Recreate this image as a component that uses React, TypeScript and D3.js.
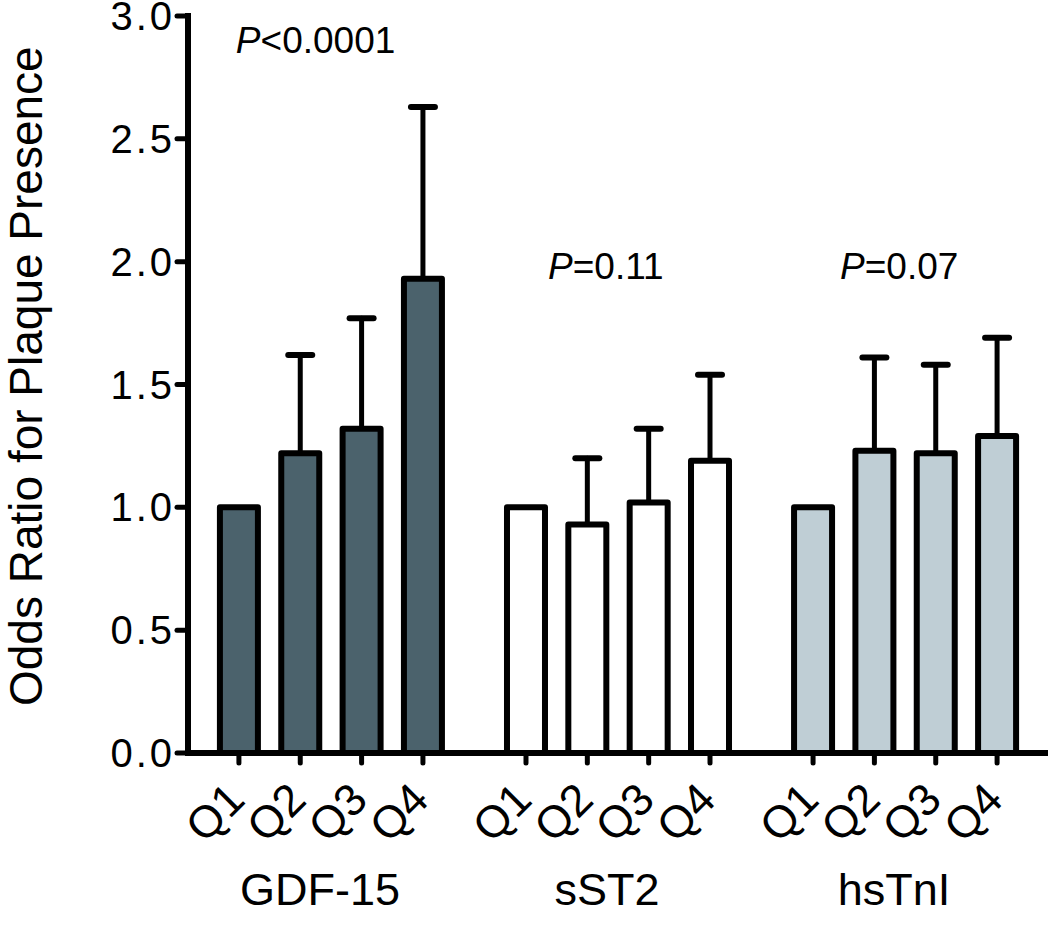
import React from "react";
import * as d3 from "d3";

// ---- data ----
const groups = ["GDF-15", "sST2", "hsTnI"];
const quartiles = ["Q1", "Q2", "Q3", "Q4"];
const gdf15OR = [1.0, 1.22, 1.32, 1.93];
const gdf15Upper = [null, 1.62, 1.77, 2.63];
const sst2OR = [1.0, 0.93, 1.02, 1.19];
const sst2Upper = [null, 1.2, 1.32, 1.54];
const hstniOR = [1.0, 1.23, 1.22, 1.29];
const hstniUpper = [null, 1.61, 1.58, 1.69];
const groupFills = ["#4B626C", "#FFFFFF", "#BFCED5"];
const pLabels = [
  { prefix: "P", rest: "<0.0001", slot: -0.05, value: 2.85 },
  { prefix: "P", rest: "=0.11", slot: 4.68 + 0.36, value: 1.93 },
  { prefix: "P", rest: "=0.07", slot: 9.36 + 0.44, value: 1.93 },
];
const yTicks = [0, 0.5, 1.0, 1.5, 2.0, 2.5, 3.0];
const yLabel = "Odds Ratio for Plaque Presence";

const seriesOR = [gdf15OR, sst2OR, hstniOR];
const seriesUpper = [gdf15Upper, sst2Upper, hstniUpper];
const GROUP_STEP = 4.68; // slots between first bars of consecutive groups

const W = 1050;
const H = 932;
const FONT = "'Liberation Sans', Arial, Helvetica, sans-serif";

export default function App() {
  const axisX = 188;
  const axisRight = 1048;
  const y = d3.scaleLinear().domain([0, 3]).range([753, 16]);
  const lastSlot = (groups.length - 1) * GROUP_STEP + (quartiles.length - 1);
  const x = d3
    .scaleLinear()
    .domain([-0.83, lastSlot + 0.83])
    .range([axisX, axisRight]);
  const barW = 38;
  const capW = 24;
  const fmt = d3.format(".1f");

  const bars = groups.flatMap((g, gi) =>
    quartiles.map((q, qi) => ({
      group: g,
      gi,
      q,
      slot: gi * GROUP_STEP + qi,
      value: seriesOR[gi][qi],
      upper: seriesUpper[gi][qi],
    }))
  );

  return (
    <svg
      width={W}
      height={H}
      style={{ position: "absolute", left: 0, top: 0, background: "#fff" }}
      fontFamily={FONT}
    >
      <rect x={0} y={0} width={W} height={H} fill="#fff" />
      {/* error bars */}
      {bars.map((b, i) =>
        b.upper == null ? null : (
          <g key={"e" + i} stroke="#000" strokeLinecap="round">
            <line
              x1={x(b.slot)}
              x2={x(b.slot)}
              y1={y(b.value)}
              y2={y(b.upper)}
              strokeWidth={5}
            />
            <line
              x1={x(b.slot) - capW / 2}
              x2={x(b.slot) + capW / 2}
              y1={y(b.upper)}
              y2={y(b.upper)}
              strokeWidth={6}
            />
          </g>
        )
      )}
      {/* bars */}
      {bars.map((b, i) => (
        <rect
          key={"b" + i}
          x={x(b.slot) - barW / 2}
          y={y(b.value)}
          width={barW}
          height={y(0) - y(b.value)}
          fill={groupFills[b.gi]}
          stroke="#000"
          strokeWidth={6}
          strokeLinejoin="round"
        />
      ))}
      {/* y axis */}
      <line x1={axisX} x2={axisX} y1={y(3) - 3} y2={y(0) + 3} stroke="#000" strokeWidth={6} />
      {yTicks.map((t) => (
        <g key={"yt" + t}>
          <line
            x1={axisX - 11}
            x2={axisX}
            y1={y(t)}
            y2={y(t)}
            stroke="#000"
            strokeWidth={5}
            strokeLinecap="round"
          />
          <text
            x={175}
            y={y(t)}
            dy="0.35em"
            textAnchor="end"
            fontSize={40}
            letterSpacing={3}
            fill="#000"
          >
            {fmt(t)}
          </text>
        </g>
      ))}
      {/* x axis */}
      <line x1={axisX} x2={axisRight} y1={y(0)} y2={y(0)} stroke="#000" strokeWidth={6} />
      {bars.map((b, i) => (
        <g key={"xt" + i}>
          <line
            x1={x(b.slot)}
            x2={x(b.slot)}
            y1={y(0)}
            y2={y(0) + 10}
            stroke="#000"
            strokeWidth={5}
            strokeLinecap="round"
          />
          <text
            transform={`translate(${x(b.slot) + 8},${y(0) + 49}) rotate(-45)`}
            textAnchor="end"
            fontSize={45}
            fill="#000"
          >
            {b.q}
          </text>
        </g>
      ))}
      {/* group labels */}
      {groups.map((g, gi) => (
        <text
          key={"g" + g}
          x={x(gi * GROUP_STEP + 1.5) - 11}
          y={905}
          textAnchor="middle"
          fontSize={45}
          fill="#000"
        >
          {g}
        </text>
      ))}
      {/* P annotations */}
      {pLabels.map((p, i) => (
        <text key={"p" + i} x={x(p.slot)} y={y(p.value)} fontSize={37} fill="#000">
          <tspan fontStyle="italic">{p.prefix}</tspan>
          {p.rest}
        </text>
      ))}
      {/* y axis title */}
      <text
        transform={`translate(42,${y(0) - 47}) rotate(-90)`}
        textAnchor="start"
        fontSize={46}
        fill="#000"
      >
        {yLabel}
      </text>
    </svg>
  );
}
